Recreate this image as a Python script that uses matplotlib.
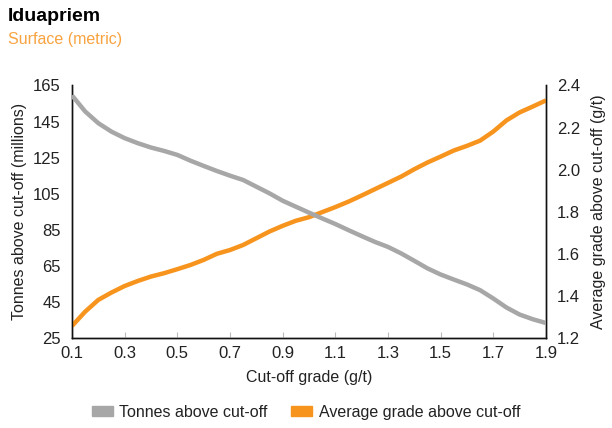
import matplotlib
matplotlib.use('Agg')
import matplotlib.pyplot as plt
from matplotlib.patches import Patch

plt.rcParams['font.family'] = ['Liberation Sans Narrow', 'Liberation Sans', 'DejaVu Sans']

# Дані (крок 0.05 г/т)
cutoff = [0.10, 0.15, 0.20, 0.25, 0.30, 0.35, 0.40, 0.45, 0.50, 0.55,
          0.60, 0.65, 0.70, 0.75, 0.80, 0.85, 0.90, 0.95, 1.00, 1.05,
          1.10, 1.15, 1.20, 1.25, 1.30, 1.35, 1.40, 1.45, 1.50, 1.55,
          1.60, 1.65, 1.70, 1.75, 1.80, 1.85, 1.90]
tonnes = [159.5, 150.6, 144.1, 139.4, 135.8, 133.0, 130.6, 128.7, 126.5, 123.3,
          120.4, 117.6, 115.0, 112.6, 108.9, 105.2, 101.1, 97.8, 94.5, 91.3,
          88.2, 84.8, 81.5, 78.3, 75.5, 71.9, 67.8, 63.6, 60.2, 57.4,
          54.7, 51.5, 46.9, 41.9, 38.0, 35.4, 33.3]
grade = [1.257, 1.325, 1.381, 1.416, 1.447, 1.471, 1.492, 1.508, 1.527, 1.547,
         1.571, 1.600, 1.618, 1.642, 1.674, 1.706, 1.733, 1.757, 1.774, 1.798,
         1.822, 1.848, 1.877, 1.907, 1.937, 1.967, 2.002, 2.034, 2.062, 2.091,
         2.113, 2.138, 2.181, 2.234, 2.272, 2.300, 2.329]

gray = '#a7a7a7'
orange = '#f7941d'
txt = '#222222'

fig = plt.figure(figsize=(6.12, 4.28), dpi=100)
ax = fig.add_axes([0.1176, 0.2103, 0.7745, 0.59])
ax2 = ax.twinx()

# сіра лінія поверх помаранчевої
ax.set_zorder(ax2.get_zorder() + 1)
ax.patch.set_visible(False)

ax.plot(cutoff, tonnes, color=gray, lw=3.2, solid_capstyle='butt', zorder=3)
ax2.plot(cutoff, grade, color=orange, lw=3.2, solid_capstyle='butt', zorder=3)

ax.set_xlim(0.1, 1.9)
ax.set_ylim(25, 165)
ax2.set_ylim(1.2, 2.4)
ax.set_xticks([0.1, 0.3, 0.5, 0.7, 0.9, 1.1, 1.3, 1.5, 1.7, 1.9])
ax.set_yticks(range(25, 166, 20))
ax2.set_yticks([1.2, 1.4, 1.6, 1.8, 2.0, 2.2, 2.4])
ax2.set_yticklabels(['1.2', '1.4', '1.6', '1.8', '2.0', '2.2', '2.4'])

ax.tick_params(axis='x', direction='in', length=4, color='#bbbbbb',
               labelsize=12, labelcolor=txt, pad=6)
ax.tick_params(axis='y', length=0, labelsize=12, labelcolor=txt, pad=8)
ax2.tick_params(axis='y', length=0, labelsize=12, labelcolor=txt, pad=8)

for a in (ax, ax2):
    a.spines['top'].set_visible(False)
    for s in ('left', 'right', 'bottom'):
        a.spines[s].set_color('#111111')
        a.spines[s].set_linewidth(1.0)

ax.set_xlabel('Cut-off grade (g/t)', fontsize=11.5, color=txt, labelpad=6)
ax.set_ylabel('Tonnes above cut-off (millions)', fontsize=11.5, color=txt, labelpad=4)
ax2.set_ylabel('Average grade above cut-off (g/t)', fontsize=11.5, color=txt, labelpad=8)

fig.text(0.013, 0.962, 'Iduapriem', fontsize=14, fontweight='bold', color='black', va='center')
fig.text(0.013, 0.907, 'Surface (metric)', fontsize=11.5, color='#f8a340', va='center')

handles = [Patch(color=gray, label='Tonnes above cut-off'),
           Patch(color=orange, label='Average grade above cut-off')]
fig.legend(handles=handles, loc='center', bbox_to_anchor=(0.5, 0.037), ncol=2,
           frameon=False, fontsize=11.5, handlelength=1.3, handleheight=0.6,
           handletextpad=0.4, columnspacing=1.5, labelcolor=txt)

plt.savefig('out.png', dpi=100)
